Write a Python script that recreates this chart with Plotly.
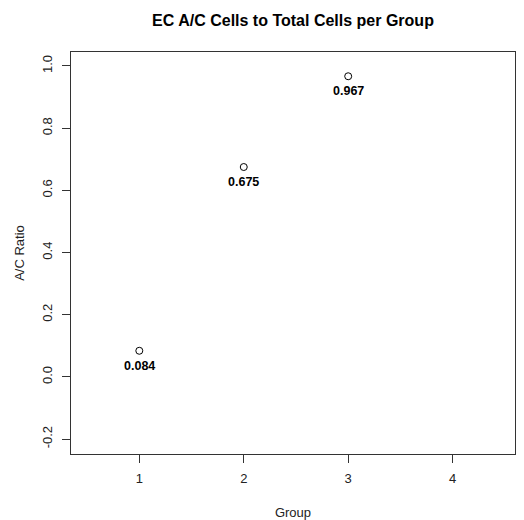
import plotly.graph_objects as go

# Ratio of EC A/C cells to total cells, one value per group
groups = [1, 2, 3]
ratios = [0.084, 0.675, 0.967]
x_ticks = [1, 2, 3, 4]
y_ticks = [-0.2, 0.0, 0.2, 0.4, 0.6, 0.8, 1.0]

FONT = "Liberation Sans, Arial, Helvetica, sans-serif"

fig = go.Figure()
fig.add_trace(go.Scatter(
    x=groups, y=ratios, mode="markers",
    marker=dict(symbol="circle-open", size=7, color="black", line=dict(width=1)),
    hoverinfo="skip", showlegend=False,
))

# value labels under each point
for g, r in zip(groups, ratios):
    fig.add_annotation(
        x=g, y=r, text=f"<b>{r:.3f}</b>", showarrow=False,
        yshift=-15, font=dict(family=FONT, size=12.5, color="black"),
    )

axis_common = dict(
    showgrid=False, zeroline=False, showline=True, mirror=True,
    linecolor="#333333", linewidth=1, ticks="outside", ticklen=8,
    tickcolor="#333333", tickwidth=1, automargin=False,
    tickfont=dict(family=FONT, size=13, color="#222222"),
)

fig.update_layout(
    width=524, height=520,
    margin=dict(l=71, r=9, t=52, b=66),
    paper_bgcolor="white", plot_bgcolor="white",
    title=dict(
        text="<b>EC A/C Cells to Total Cells per Group</b>",
        xref="paper", x=0.5, xanchor="center",
        y=1 - 20 / 520, yanchor="middle",
        font=dict(family=FONT, size=16, color="black"),
    ),
    xaxis=dict(
        range=[0.346, 4.597], tickvals=x_ticks,
        ticktext=[str(v) for v in x_ticks], ticklabelstandoff=4,
        title=dict(text="Group", standoff=24,
                   font=dict(family=FONT, size=13, color="#222222")),
        **axis_common,
    ),
    yaxis=dict(
        range=[-0.248, 1.045], tickvals=y_ticks,
        ticktext=[f"{v:.1f}" for v in y_ticks], tickangle=-90,
        ticklabelstandoff=5,
        title=dict(text="A/C Ratio", standoff=12,
                   font=dict(family=FONT, size=13, color="#222222")),
        **axis_common,
    ),
)

fig.write_html("out.html")
